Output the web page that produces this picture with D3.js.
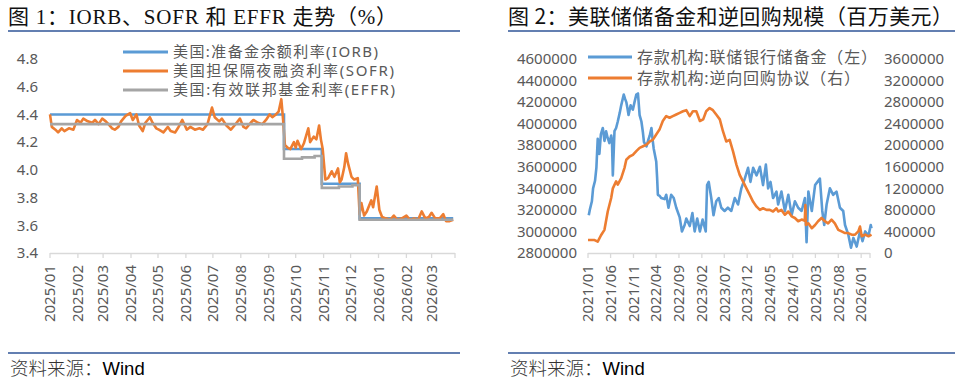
<!DOCTYPE html>
<html><head><meta charset="utf-8">
<script src="https://cdn.jsdelivr.net/npm/d3@7"></script>
<style>body{margin:0;background:#fff}svg{display:block}</style>
</head><body><svg id="c" width="960" height="382"></svg>
<script>
// ---------- Chart 1 data ----------
const rateTicks = [3.4, 3.6, 3.8, 4.0, 4.2, 4.4, 4.6, 4.8];
const rateMonths = ["2025/01","2025/02","2025/03","2025/04","2025/05","2025/06","2025/07","2025/08","2025/09","2025/10","2025/11","2025/12","2026/01","2026/02","2026/03"];
const rateNames = ["美国:准备金余额利率(IORB)", "美国担保隔夜融资利率(SOFR)", "美国:有效联邦基金利率(EFFR)"];
const iorb = [["2025-01-01",4.40],["2025-09-18",4.15],["2025-10-30",3.90],["2025-12-11",3.65],["2026-03-25",3.65]];
const effr = [["2025-01-01",4.33],["2025-09-18",4.08],["2025-10-08",4.09],["2025-10-22",4.10],["2025-10-30",3.87],["2025-11-18",3.88],["2025-12-03",3.89],["2025-12-11",3.64],["2026-03-25",3.64]];
const sofr = [
["2025-01-01",4.40],["2025-01-03",4.31],["2025-01-07",4.29],["2025-01-10",4.27],["2025-01-14",4.30],["2025-01-17",4.28],["2025-01-22",4.30],["2025-01-27",4.29],
["2025-01-31",4.36],["2025-02-04",4.34],["2025-02-07",4.37],["2025-02-12",4.35],["2025-02-17",4.34],["2025-02-20",4.36],["2025-02-24",4.33],["2025-02-28",4.37],
["2025-03-04",4.35],["2025-03-07",4.33],["2025-03-11",4.30],["2025-03-14",4.29],["2025-03-18",4.31],["2025-03-21",4.35],["2025-03-26",4.39],["2025-03-31",4.41],
["2025-04-03",4.36],["2025-04-07",4.40],["2025-04-10",4.32],["2025-04-14",4.28],["2025-04-17",4.34],["2025-04-22",4.38],["2025-04-25",4.34],["2025-04-29",4.30],
["2025-05-02",4.29],["2025-05-07",4.27],["2025-05-12",4.31],["2025-05-15",4.28],["2025-05-20",4.27],["2025-05-23",4.30],["2025-05-28",4.36],["2025-06-02",4.29],
["2025-06-06",4.31],["2025-06-11",4.29],["2025-06-16",4.30],["2025-06-20",4.29],["2025-06-25",4.33],["2025-06-30",4.45],["2025-07-03",4.38],["2025-07-08",4.35],
["2025-07-11",4.37],["2025-07-16",4.32],["2025-07-21",4.29],["2025-07-25",4.32],["2025-07-31",4.37],["2025-08-04",4.31],["2025-08-07",4.30],["2025-08-12",4.34],
["2025-08-15",4.36],["2025-08-20",4.34],["2025-08-25",4.33],["2025-08-29",4.36],["2025-09-02",4.40],["2025-09-05",4.38],["2025-09-09",4.40],["2025-09-12",4.42],
["2025-09-15",4.51],["2025-09-17",4.36],["2025-09-19",4.18],["2025-09-22",4.16],["2025-09-25",4.15],["2025-09-29",4.20],["2025-10-01",4.16],["2025-10-03",4.21],
["2025-10-07",4.15],["2025-10-10",4.19],["2025-10-15",4.30],["2025-10-17",4.20],["2025-10-21",4.24],["2025-10-24",4.22],["2025-10-27",4.32],["2025-10-29",4.22],
["2025-10-31",4.15],["2025-11-03",3.93],["2025-11-06",3.94],["2025-11-10",3.99],["2025-11-13",3.95],["2025-11-17",4.01],["2025-11-19",3.91],["2025-11-21",3.93],
["2025-11-24",4.02],["2025-11-26",4.12],["2025-11-28",4.05],["2025-12-02",3.95],["2025-12-05",3.93],["2025-12-09",3.94],["2025-12-11",3.68],["2025-12-13",3.76],
["2025-12-16",3.67],["2025-12-19",3.70],["2025-12-24",3.78],["2025-12-26",3.73],["2025-12-30",3.88],["2026-01-02",3.71],["2026-01-05",3.66],["2026-01-09",3.65],
["2026-01-14",3.64],["2026-01-18",3.67],["2026-01-22",3.64],["2026-01-27",3.65],["2026-02-01",3.67],["2026-02-05",3.64],["2026-02-10",3.65],["2026-02-14",3.64],
["2026-02-18",3.70],["2026-02-22",3.65],["2026-02-26",3.66],["2026-03-01",3.69],["2026-03-05",3.65],["2026-03-10",3.65],["2026-03-14",3.68],["2026-03-17",3.63],
["2026-03-21",3.63],["2026-03-25",3.64]
];

// ---------- Chart 2 data ----------
const reserveTicks = [2800000,3000000,3200000,3400000,3600000,3800000,4000000,4200000,4400000,4600000];
const rrpTicks = [0,400000,800000,1200000,1600000,2000000,2400000,2800000,3200000,3600000];
const repoMonths = ["2021/01","2021/06","2021/11","2022/04","2022/09","2023/02","2023/07","2023/12","2024/05","2024/10","2025/03","2025/08","2026/01"];
const repoNames = ["存款机构:联储银行储备金（左）", "存款机构:逆向回购协议（右）"];
const reserves = [
["2021-01-06",3150000],["2021-01-13",3200000],["2021-01-27",3280000],["2021-02-04",3400000],["2021-02-17",3470000],["2021-02-26",3590000],["2021-03-07",3860000],
["2021-03-14",3780000],["2021-03-18",3720000],["2021-03-28",3900000],["2021-04-10",3960000],["2021-04-21",3840000],["2021-05-02",3930000],["2021-05-12",3870000],
["2021-05-24",3820000],["2021-06-05",3890000],["2021-06-10",3850000],["2021-06-16",3520000],["2021-06-27",3930000],["2021-07-08",3960000],["2021-07-19",4020000],
["2021-08-01",4100000],["2021-08-11",4170000],["2021-08-28",4270000],["2021-09-06",4230000],["2021-09-14",4200000],["2021-09-22",4140000],["2021-09-29",4080000],
["2021-10-13",4170000],["2021-10-20",4150000],["2021-10-28",4130000],["2021-11-08",4200000],["2021-11-20",4270000],["2021-12-01",4280000],["2021-12-12",4080000],
["2021-12-24",4020000],["2022-01-03",3920000],["2022-01-10",3830000],["2022-01-27",3790000],["2022-02-08",3850000],["2022-02-18",3890000],["2022-03-01",3960000],
["2022-03-09",3850000],["2022-03-16",3770000],["2022-04-02",3650000],["2022-04-08",3500000],["2022-04-13",3340000],["2022-04-25",3330000],["2022-05-05",3310000],
["2022-05-28",3300000],["2022-06-08",3340000],["2022-06-23",3220000],["2022-07-11",3340000],["2022-07-28",3310000],["2022-08-14",3220000],["2022-09-06",3130000],
["2022-09-21",3000000],["2022-10-09",3060000],["2022-10-20",3120000],["2022-11-12",3050000],["2022-11-30",3170000],["2022-12-15",3000000],["2023-01-01",3120000],
["2023-01-19",3000000],["2023-02-06",3110000],["2023-02-27",3000000],["2023-03-08",3430000],["2023-03-19",3460000],["2023-04-05",3310000],["2023-04-20",3150000],
["2023-05-08",3280000],["2023-05-25",3310000],["2023-06-11",3220000],["2023-07-03",3190000],["2023-07-25",3220000],["2023-08-17",3190000],["2023-09-09",3310000],
["2023-10-01",3250000],["2023-10-23",3400000],["2023-11-15",3490000],["2023-12-07",3590000],["2023-12-23",3460000],["2024-01-10",3590000],["2024-02-02",3520000],
["2024-02-24",3600000],["2024-03-16",3430000],["2024-04-04",3620000],["2024-04-19",3400000],["2024-05-05",3460000],["2024-05-22",3310000],["2024-06-14",3370000],
["2024-06-25",3250000],["2024-07-17",3370000],["2024-08-09",3190000],["2024-09-01",3340000],["2024-09-23",3150000],["2024-10-15",3280000],["2024-11-06",3220000],
["2024-11-29",3190000],["2024-12-21",3310000],["2025-01-01",2900000],["2025-01-13",3370000],["2025-02-05",3190000],["2025-02-27",3430000],["2025-03-15",3460000],
["2025-03-31",3490000],["2025-04-16",3190000],["2025-04-29",3060000],["2025-05-15",3250000],["2025-06-06",3400000],["2025-06-28",3340000],["2025-07-20",3370000],
["2025-08-12",3220000],["2025-09-03",3190000],["2025-09-15",3060000],["2025-10-07",2970000],["2025-10-25",2850000],["2025-11-10",2940000],["2025-12-02",2860000],
["2025-12-24",3000000],["2026-01-10",2910000],["2026-01-28",3000000],["2026-02-19",2960000],["2026-03-06",3060000],["2026-03-11",3030000]
];
const rrp = [
["2021-01-01",240000],["2021-02-14",240000],["2021-03-07",210000],["2021-03-29",330000],["2021-04-21",430000],["2021-05-13",770000],["2021-06-05",1020000],
["2021-06-16",1200000],["2021-07-08",1330000],["2021-07-19",1270000],["2021-08-11",1390000],["2021-09-02",1580000],["2021-09-14",1730000],["2021-10-06",1790000],
["2021-10-28",1820000],["2021-11-20",1890000],["2021-12-12",1950000],["2022-01-04",1980000],["2022-01-27",2010000],["2022-02-18",2070000],["2022-03-10",2100000],
["2022-04-02",2200000],["2022-04-24",2290000],["2022-05-16",2450000],["2022-06-08",2540000],["2022-06-30",2510000],["2022-07-22",2540000],["2022-08-14",2570000],
["2022-09-06",2600000],["2022-09-28",2630000],["2022-10-20",2650000],["2022-11-12",2540000],["2022-12-03",2630000],["2022-12-26",2630000],["2023-01-19",2450000],
["2023-02-10",2480000],["2023-03-02",2630000],["2023-03-25",2690000],["2023-04-16",2650000],["2023-05-08",2570000],["2023-06-01",2480000],["2023-06-22",2260000],
["2023-07-14",2070000],["2023-08-06",2100000],["2023-08-28",1890000],["2023-09-20",1640000],["2023-10-12",1450000],["2023-11-03",1330000],["2023-11-26",1200000],
["2023-12-18",1080000],["2024-01-10",950000],["2024-02-02",860000],["2024-02-24",800000],["2024-03-16",830000],["2024-04-08",800000],["2024-04-30",800000],
["2024-05-22",770000],["2024-06-14",830000],["2024-06-25",770000],["2024-07-17",800000],["2024-08-09",710000],["2024-09-01",770000],["2024-09-23",680000],
["2024-10-15",650000],["2024-11-06",590000],["2024-11-29",620000],["2024-12-20",600000],["2024-12-24",890000],["2024-12-28",520000],["2025-01-13",550000],
["2025-02-05",460000],["2025-02-27",520000],["2025-03-19",590000],["2025-04-11",650000],["2025-05-03",590000],["2025-05-25",550000],["2025-06-17",620000],
["2025-07-09",550000],["2025-08-01",430000],["2025-08-23",400000],["2025-09-15",370000],["2025-10-07",370000],["2025-10-29",340000],["2025-11-21",340000],
["2025-12-13",400000],["2025-12-24",490000],["2026-01-05",310000],["2026-01-28",340000],["2026-02-19",310000],["2026-03-11",340000]
];

// ---------- Drawing ----------
const C = {blue:"#5B9BD5", orange:"#ED7D31", gray:"#A5A5A5", text:"#595959", axis:"#D9D9D9", rule:"#2F5597"};
const parse = d3.timeParse("%Y-%m-%d");
const parseM = d3.timeParse("%Y/%m");
const svg = d3.select("#c");
const LAB = "'Noto Sans','Noto Sans CJK SC',sans-serif";

function frame(x0, x1, title, titleFont, titleSize, titleLen) {
  svg.append("text").attr("x", x0).attr("y", 24).attr("font-family", titleFont)
    .attr("font-size", titleSize).attr("fill", "#111")
    .attr("textLength", titleLen).attr("lengthAdjust", "spacing").text(title);
  svg.append("line").attr("x1", x0).attr("x2", x1).attr("y1", 31).attr("y2", 31)
    .attr("stroke", C.rule).attr("stroke-width", 1.3);
  svg.append("line").attr("x1", x0).attr("x2", x1).attr("y1", 353).attr("y2", 353)
    .attr("stroke", C.rule).attr("stroke-width", 1.3);
  const f = svg.append("text").attr("x", x0 + 2).attr("y", 375).attr("font-size", 18.5);
  f.append("tspan").attr("font-family", "'Noto Sans CJK SC',sans-serif").attr("font-weight", 300).attr("fill", "#333").text("资料来源：");
  f.append("tspan").attr("font-family", "'Liberation Sans',Arial,sans-serif").attr("fill", "#000").text("Wind");
}

function xAxis(x, labels, endDate) {
  const g = svg.append("g");
  const [r0, r1] = x.range();
  g.append("line").attr("x1", r0).attr("x2", r1).attr("y1", 253.5).attr("y2", 253.5).attr("stroke", C.axis).attr("stroke-width", 1.3);
  const tickDates = labels.map(parseM).concat([endDate]);
  g.selectAll("line.t").data(tickDates).join("line").attr("class", "t")
    .attr("x1", d => x(d)).attr("x2", d => x(d)).attr("y1", 253).attr("y2", 258)
    .attr("stroke", C.axis).attr("stroke-width", 1.3);
  g.selectAll("text").data(labels).join("text")
    .attr("transform", d => `translate(${x(parseM(d))},265) rotate(-90)`)
    .attr("text-anchor", "end").attr("dy", "0.35em")
    .attr("font-family", LAB).attr("font-size", 15).attr("fill", C.text).text(d => d);
}

function yLabels(y, ticks, xPos, anchor, fmt) {
  svg.append("g").selectAll("text").data(ticks).join("text")
    .attr("x", xPos).attr("y", d => y(d)).attr("dy", "0.35em").attr("text-anchor", anchor)
    .attr("font-family", LAB).attr("font-size", 15).attr("fill", C.text).text(fmt);
}

function legend(items, x, ys, len, fs) {
  items.forEach((it, i) => {
    svg.append("line").attr("x1", x).attr("x2", x + len).attr("y1", ys[i]).attr("y2", ys[i])
      .attr("stroke", it.color).attr("stroke-width", 3);
    svg.append("text").attr("x", x + len + 5).attr("y", ys[i]).attr("dy", "0.36em")
      .attr("font-family", LAB).attr("font-size", fs).attr("fill", C.text)
      .attr("textLength", it.w).attr("lengthAdjust", "spacing").text(it.name);
  });
}

// ---- Chart 1 ----
frame(8, 460, "图 1：IORB、SOFR 和 EFFR 走势（%）", "'Liberation Serif','Noto Sans CJK SC',serif", 21, 389);
const x1 = d3.scaleTime().domain([parse("2025-01-01"), parse("2026-03-27")]).range([50, 455]);
const y1 = d3.scaleLinear().domain([3.4, 4.8]).range([253, 59]);
yLabels(y1, rateTicks, 38, "end", d => d.toFixed(1));
xAxis(x1, rateMonths, parse("2026-03-27"));
const stepLine = d3.line().x(d => x1(parse(d[0]))).y(d => y1(d[1])).curve(d3.curveStepAfter);
const linLine = d3.line().x(d => x1(parse(d[0]))).y(d => y1(d[1]));
svg.append("path").attr("d", stepLine(iorb)).attr("fill", "none").attr("stroke", C.blue).attr("stroke-width", 2.6);
svg.append("path").attr("d", linLine(sofr)).attr("fill", "none").attr("stroke", C.orange).attr("stroke-width", 2.6).attr("stroke-linejoin", "round");
svg.append("path").attr("d", stepLine(effr)).attr("fill", "none").attr("stroke", C.gray).attr("stroke-width", 2.6);
legend([{name: rateNames[0], color: C.blue, w: 205}, {name: rateNames[1], color: C.orange, w: 221}, {name: rateNames[2], color: C.gray, w: 222}], 123, [52, 71, 90], 45, 15);

// ---- Chart 2 ----
frame(508, 955, "图 2：美联储储备金和逆回购规模（百万美元）", "'Noto Sans CJK SC',sans-serif", 21, 445);
const x2 = d3.scaleTime().domain([parse("2021-01-01"), parse("2026-03-01")]).range([588, 870]);
const yL = d3.scaleLinear().domain([2800000, 4600000]).range([253, 59]);
const yR = d3.scaleLinear().domain([0, 3600000]).range([253, 59]);
yLabels(yL, reserveTicks, 577, "end", d => String(d));
yLabels(yR, rrpTicks, 884, "start", d => String(d));
xAxis(x2, repoMonths, parse("2026-03-01"));
const lineL = d3.line().x(d => x2(parse(d[0]))).y(d => yL(d[1]));
const lineR = d3.line().x(d => x2(parse(d[0]))).y(d => yR(d[1]));
svg.append("path").attr("d", lineL(reserves)).attr("fill", "none").attr("stroke", C.blue).attr("stroke-width", 2.6).attr("stroke-linejoin", "round");
svg.append("path").attr("d", lineR(rrp)).attr("fill", "none").attr("stroke", C.orange).attr("stroke-width", 2.6).attr("stroke-linejoin", "round");
legend([{name: repoNames[0], color: C.blue, w: 240}, {name: repoNames[1], color: C.orange, w: 223}], 588, [57, 78], 44, 16);
</script></body></html>
